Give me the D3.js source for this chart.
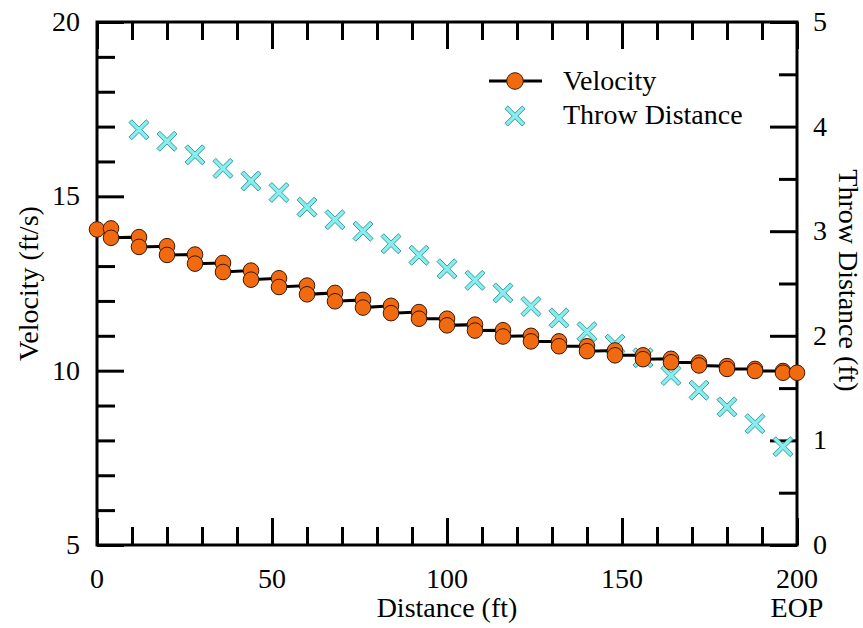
<!DOCTYPE html>
<html>
<head>
<meta charset="utf-8">
<script src="https://cdn.jsdelivr.net/npm/d3@7"></script>
<style>body { margin: 0; background: #fff; }</style>
</head>
<body>
<svg id="chart" width="863" height="628"></svg>
<script>
// Velocity along the pipe: two readings at each station (upstream / downstream)
const velocityDistance = [0, 4, 4, 12, 12, 20, 20, 28, 28, 36, 36, 44, 44, 52, 52, 60, 60, 68, 68,
  76, 76, 84, 84, 92, 92, 100, 100, 108, 108, 116, 116, 124, 124, 132, 132, 140, 140,
  148, 148, 156, 156, 164, 164, 172, 172, 180, 180, 188, 188, 196, 196, 200];
const velocity = [14.05, 14.08, 13.81, 13.83, 13.55, 13.57, 13.32, 13.33, 13.07, 13.09, 12.83,
  12.87, 12.61, 12.65, 12.40, 12.44, 12.19, 12.23, 11.99, 12.03, 11.81, 11.86, 11.65,
  11.68, 11.49, 11.49, 11.30, 11.32, 11.15, 11.16, 10.98, 11.00, 10.84, 10.84, 10.70,
  10.70, 10.56, 10.58, 10.44, 10.44, 10.33, 10.34, 10.24, 10.23, 10.15, 10.13, 10.05,
  10.05, 9.99, 9.99, 9.94, 9.94];

// Throw distance at each orifice
const throwStation = [12, 20, 28, 36, 44, 52, 60, 68, 76, 84, 92, 100, 108, 116, 124, 132,
  140, 148, 156, 164, 172, 180, 188, 196];
const throwDistance = [3.97, 3.86, 3.73, 3.60, 3.48, 3.37, 3.23, 3.11, 3.00, 2.88, 2.77, 2.64,
  2.53, 2.41, 2.28, 2.17, 2.04, 1.92, 1.79, 1.62, 1.48, 1.32, 1.16, 0.94];

// Axis ticks
const xMajorTicks = [0, 50, 100, 150, 200];
const xMinorTicks = [10, 20, 30, 40, 60, 70, 80, 90, 110, 120, 130, 140, 160, 170, 180, 190];
const yLeftMajorTicks = [5, 10, 15, 20];
const yLeftMinorTicks = [6, 7, 8, 9, 11, 12, 13, 14, 16, 17, 18, 19];
const yRightMajorTicks = [0, 1, 2, 3, 4, 5];
const yRightMinorTicks = [0.5, 1.5, 2.5, 3.5, 4.5];

const seriesNames = ["Velocity", "Throw Distance"];
const xTitle = "Distance (ft)";
const xEndNote = "EOP";
const yLeftTitle = "Velocity (ft/s)";
const yRightTitle = "Throw Distance (ft)";

const W = 863, H = 628;
const m = { left: 97, right: 66, top: 22, bottom: 83 };
const pw = W - m.left - m.right, ph = H - m.top - m.bottom;
const FONT = 28;
const FACE = '"Liberation Serif"';
const MAJOR = 27, MINOR = 18;

const svg = d3.select("#chart");
const g = svg.append("g").attr("transform", `translate(${m.left},${m.top})`);

const x = d3.scaleLinear().domain([0, 200]).range([0, pw]);
const yL = d3.scaleLinear().domain([5, 20]).range([ph, 0]);
const yR = d3.scaleLinear().domain([0, 5]).range([ph, 0]);

function styleAxis(sel) {
  sel.select(".domain").remove();
  sel.selectAll(".tick text").remove();
  sel.selectAll(".tick line").attr("stroke", "#000").attr("stroke-width", 3);
}

// Inward ticks on all four sides
const axes = [
  [d3.axisBottom(x).tickValues(xMinorTicks).tickSize(-MINOR), `translate(0,${ph})`],
  [d3.axisBottom(x).tickValues(xMajorTicks).tickSize(-MAJOR), `translate(0,${ph})`],
  [d3.axisTop(x).tickValues(xMinorTicks).tickSize(-MINOR), null],
  [d3.axisTop(x).tickValues(xMajorTicks).tickSize(-MAJOR), null],
  [d3.axisLeft(yL).tickValues(yLeftMinorTicks).tickSize(-MINOR), null],
  [d3.axisLeft(yL).tickValues(yLeftMajorTicks).tickSize(-MAJOR), null],
  [d3.axisRight(yR).tickValues(yRightMinorTicks).tickSize(-MINOR), `translate(${pw},0)`],
  [d3.axisRight(yR).tickValues(yRightMajorTicks).tickSize(-MAJOR), `translate(${pw},0)`]
];
axes.forEach(([ax, tr]) => g.append("g").attr("transform", tr).call(ax).call(styleAxis));

// Frame
g.append("rect").attr("x", 0).attr("y", 0).attr("width", pw).attr("height", ph)
  .attr("fill", "none").attr("stroke", "#000").attr("stroke-width", 3);

// X-shaped marker for the throw distance series
const xMark = {
  draw(ctx, size) {
    const s = Math.sqrt(size) / 2;
    const b = s * 0.28;
    const pts = [[-s, -s + b], [-s + b, -s], [0, -b], [s - b, -s], [s, -s + b], [b, 0],
      [s, s - b], [s - b, s], [0, b], [-s + b, s], [-s, s - b], [-b, 0]];
    ctx.moveTo(pts[0][0], pts[0][1]);
    for (let i = 1; i < pts.length; i++) ctx.lineTo(pts[i][0], pts[i][1]);
    ctx.closePath();
  }
};
const xPath = d3.symbol().type(xMark).size(400);

const throwData = throwStation.map((d, i) => ({ x: d, y: throwDistance[i] }));
g.append("g").selectAll("path").data(throwData).join("path")
  .attr("d", xPath)
  .attr("transform", d => `translate(${x(d.x)},${yR(d.y)})`)
  .attr("fill", "#86eeee").attr("stroke", "#3f9a9a").attr("stroke-width", 1);

// Velocity line and markers
const velData = velocityDistance.map((d, i) => ({ x: d, y: velocity[i] }));
g.append("path").datum(velData)
  .attr("d", d3.line().x(d => x(d.x)).y(d => yL(d.y)))
  .attr("fill", "none").attr("stroke", "#000").attr("stroke-width", 3);
g.append("g").selectAll("circle").data(velData).join("circle")
  .attr("cx", d => x(d.x)).attr("cy", d => yL(d.y)).attr("r", 7.8)
  .attr("fill", "#f26a10").attr("stroke", "#3a1a06").attr("stroke-width", 1);

// Legend symbols
svg.append("line").attr("x1", 489).attr("x2", 542).attr("y1", 81).attr("y2", 81)
  .attr("stroke", "#000").attr("stroke-width", 3);
svg.append("circle").attr("cx", 515).attr("cy", 81).attr("r", 8.3)
  .attr("fill", "#f26a10").attr("stroke", "#3a1a06").attr("stroke-width", 1);
svg.append("path").attr("d", xPath).attr("transform", "translate(515,116)")
  .attr("fill", "#86eeee").attr("stroke", "#3f9a9a").attr("stroke-width", 1);

// All labels as top-level text elements
const labels = [];
xMajorTicks.forEach(v => labels.push({ t: String(v), x: m.left + x(v), y: 588, a: "middle" }));
yLeftMajorTicks.forEach(v => labels.push({ t: String(v), x: m.left - 17, y: m.top + yL(v) + 9, a: "end" }));
yRightMajorTicks.forEach(v => labels.push({ t: String(v), x: m.left + pw + 16, y: m.top + yR(v) + 9, a: "start" }));
labels.push({ t: seriesNames[0], x: 563, y: 90, a: "start" });
labels.push({ t: seriesNames[1], x: 563, y: 124, a: "start" });
labels.push({ t: xTitle, x: m.left + pw / 2, y: 617, a: "middle" });
labels.push({ t: xEndNote, x: m.left + pw, y: 617, a: "middle" });
labels.push({ t: yLeftTitle, x: 0, y: 0, a: "middle", tr: `translate(38,${m.top + ph / 2}) rotate(-90)` });
labels.push({ t: yRightTitle, x: 0, y: 0, a: "middle", tr: `translate(839,${m.top + ph / 2 - 3}) rotate(90)` });

svg.selectAll("text.lbl").data(labels).join("text")
  .attr("class", "lbl")
  .attr("x", d => d.x).attr("y", d => d.y)
  .attr("text-anchor", d => d.a)
  .attr("transform", d => d.tr || null)
  .attr("font-size", FONT)
  .style("font-family", FACE)
  .text(d => d.t);
</script>
</body>
</html>
